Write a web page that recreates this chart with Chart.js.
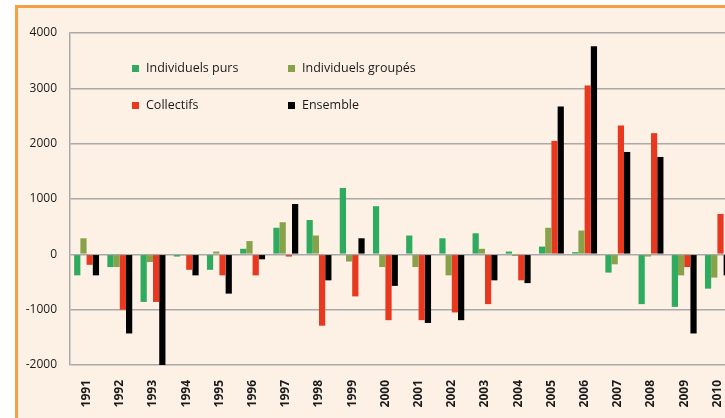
<!DOCTYPE html>
<html>
<head>
<meta charset="utf-8">
<script src="https://cdn.jsdelivr.net/npm/chart.js@4.4.1/dist/chart.umd.min.js"></script>
<style>
  html, body { margin: 0; padding: 0; background: #fff; }
  #wrap { position: relative; width: 725px; height: 418px; overflow: hidden; }
  #frame {
    position: absolute; left: 15px; top: 5px; width: 760px; height: 420px;
    background: #fdf1e6; border-top: 3px solid #f4a044; border-left: 3px solid #f4a044;
  }
  #chart { position: absolute; left: 0; top: 0; }
  .lg { position: absolute; font: 12.5px "Open Sans", sans-serif; color: #1a1a1a; white-space: nowrap; line-height: 14px; }
  .lg i { position: absolute; left: -14px; top: 4px; width: 7px; height: 7px; }
</style>
</head>
<body>
<div id="wrap">
  <div id="frame"></div>
  <canvas id="chart" width="760" height="418"></canvas>
  <div id="legend"></div>
</div>
<script>
// ===== DATA =====
const years = ["1991", "1992", "1993", "1994", "1995", "1996", "1997", "1998", "1999", "2000",
  "2001", "2002", "2003", "2004", "2005", "2006", "2007", "2008", "2009", "2010"];
const individuelsPurs = [-380, -230, -860, -40, -280, 100, 480, 620, 1200, 870,
  340, 290, 380, 50, 140, 40, -330, -900, -950, -620];
const individuelsGroupes = [290, -230, -140, -20, 50, 240, 580, 340, -130, -230,
  -230, -380, 100, -30, 480, 430, -180, -40, -380, -420];
const collectifs = [-190, -1000, -860, -280, -380, -380, -40, -1290, -760, -1190,
  -1190, -1050, -900, -470, 2050, 3050, 2330, 2190, -230, 730];
const ensemble = [-380, -1430, -2000, -380, -710, -90, 910, -470, 290, -570,
  -1240, -1190, -470, -520, 2670, 3760, 1850, 1760, -1430, -380];
const yTicks = [-2000, -1000, 0, 1000, 2000, 3000, 4000];

const series = [
  { label: "Individuels purs", data: individuelsPurs, color: "#2eab5f" },
  { label: "Individuels groupés", data: individuelsGroupes, color: "#89a24a" },
  { label: "Collectifs", data: collectifs, color: "#e8381f" },
  { label: "Ensemble", data: ensemble, color: "#000000" },
];

// ===== LEGEND (inside plot, 2 x 2) =====
const legendSpots = [
  { left: 146, top: 61 }, { left: 302, top: 61 },
  { left: 146, top: 98 }, { left: 302, top: 98 },
];
const legend = document.getElementById("legend");
series.forEach((s, i) => {
  const item = document.createElement("div");
  item.className = "lg";
  item.style.left = legendSpots[i].left + "px";
  item.style.top = legendSpots[i].top + "px";
  item.innerHTML = `<i style="background:${s.color}"></i>${s.label}`;
  legend.appendChild(item);
});

// ===== CHART =====
const gridGray = "#a9a9a9";

new Chart(document.getElementById("chart"), {
  type: "bar",
  data: {
    labels: years,
    datasets: series.map((s) => ({
      label: s.label,
      data: s.data,
      backgroundColor: s.color,
      borderWidth: 0,
      categoryPercentage: 0.75,
      barPercentage: 1.0,
    })),
  },
  options: {
    responsive: false,
    animation: false,
    devicePixelRatio: 1,
    layout: { padding: { top: 33, right: 26, bottom: 0, left: 0 } },
    plugins: {
      legend: { display: false },
      tooltip: { enabled: false },
    },
    scales: {
      x: {
        grid: { display: false, drawTicks: false },
        border: { display: false },
        ticks: {
          minRotation: 90,
          maxRotation: 90,
          padding: 15,
          color: "#1a1a1a",
          font: { family: "Open Sans", size: 12, weight: "bold" },
        },
        afterFit: (scale) => { scale.height = 53; },
      },
      y: {
        min: -2000,
        max: 4000,
        afterBuildTicks: (scale) => { scale.ticks = yTicks.map((v) => ({ value: v })); },
        grid: { color: gridGray, lineWidth: 1.5, drawTicks: false },
        border: { color: gridGray, width: 1.5 },
        ticks: {
          padding: 13,
          color: "#1a1a1a",
          font: { family: "Open Sans", size: 12 },
          callback: (value) => String(value),
        },
        afterFit: (scale) => { scale.width = 70; },
      },
    },
  },
});
</script>
</body>
</html>
